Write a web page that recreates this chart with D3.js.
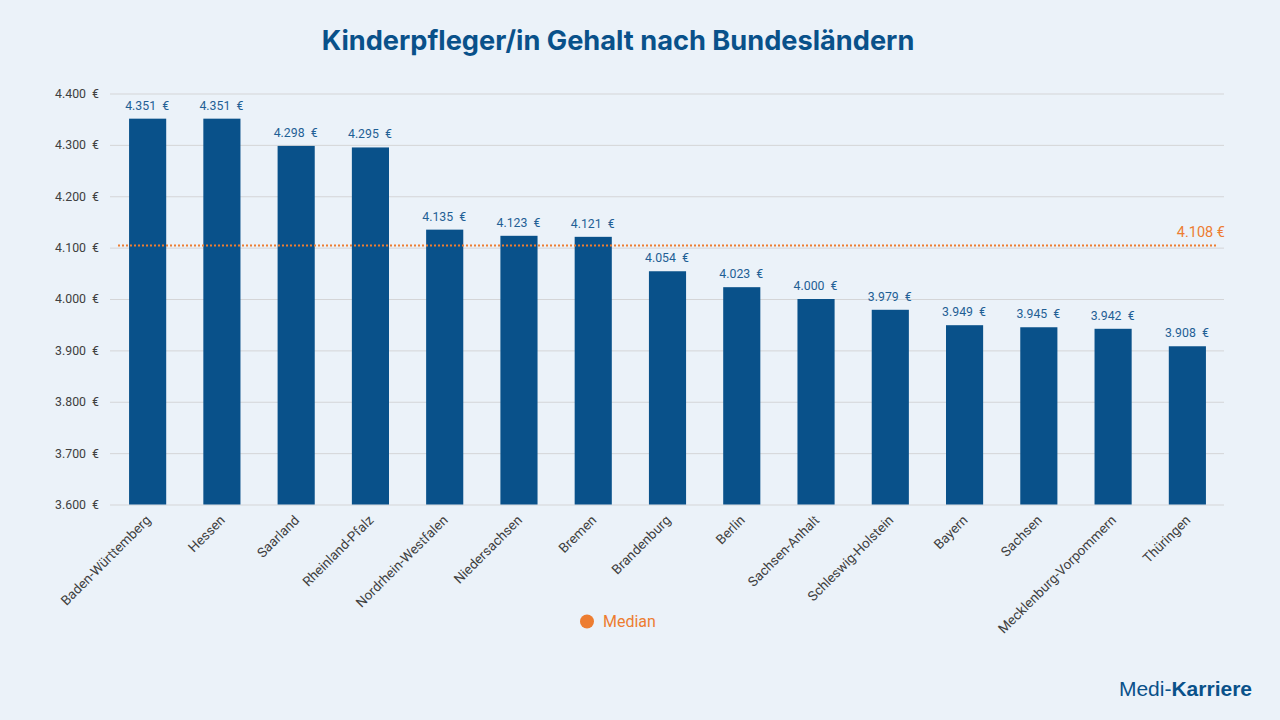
<!DOCTYPE html>
<html lang="de">
<head>
<meta charset="UTF-8">
<title>Kinderpfleger/in Gehalt nach Bundesländern</title>
<script src="https://d3js.org/d3.v7.min.js"></script>
<style>
html, body { margin: 0; padding: 0; background: #ebf2f9; }
svg { display: block; font-family: 'Roboto'; }
</style>
</head>
<body>
<div id="chart"></div>
<script>
const states = ["Baden-Württemberg", "Hessen", "Saarland", "Rheinland-Pfalz", "Nordrhein-Westfalen", "Niedersachsen", "Bremen", "Brandenburg", "Berlin", "Sachsen-Anhalt", "Schleswig-Holstein", "Bayern", "Sachsen", "Mecklenburg-Vorpommern", "Thüringen"];
const salaries = [4351, 4351, 4298, 4295, 4135, 4123, 4121, 4054, 4023, 4000, 3979, 3949, 3945, 3942, 3908];
const yTicks = [3600, 3700, 3800, 3900, 4000, 4100, 4200, 4300, 4400];
const medianLabel = 4108;
const medianDrawn = 4104; // line sits a bit under the label value in the picture

const width = 1280, height = 720;
const navy = "#09518a", orange = "#ed7d31", grid = "#d4d5d7", textDark = "#404040";

const svg = d3.select("#chart").append("svg")
    .attr("width", width)
    .attr("height", height);

const x = d3.scaleBand().domain(states).range([110.5, 1224.5]).paddingInner(0.5).paddingOuter(0.25);
const y = d3.scaleLinear().domain([3600, 4400]).range([504.5, 93.5]);

const euro = d => d3.format(",")(d).replace(",", ".") + "\u00a0 €";

svg.append("text")
    .attr("x", 618).attr("y", 50)
    .attr("text-anchor", "middle")
    .attr("font-family", "Inter")
    .attr("font-size", 27.2).attr("font-weight", 700)
    .attr("fill", navy)
    .text("Kinderpfleger/in Gehalt nach Bundesländern");

// gridlines + y labels
const yAxis = d3.axisLeft(y).tickValues(yTicks).tickSize(-(1224 - 110)).tickPadding(11).tickFormat(euro);
const yG = svg.append("g").attr("transform", "translate(110,0)").call(yAxis);
yG.select(".domain").remove();
yG.selectAll(".tick line").attr("stroke", grid).attr("stroke-width", 1);
yG.selectAll(".tick text").attr("fill", textDark).attr("font-size", 12.3).attr("font-family", "Roboto");

// bars
svg.selectAll("rect.bar")
    .data(salaries)
    .join("rect")
    .attr("class", "bar")
    .attr("x", (d, i) => x(states[i]))
    .attr("width", x.bandwidth())
    .attr("y", d => y(d))
    .attr("height", d => y(3600) - y(d))
    .attr("fill", navy);

// value labels
svg.selectAll("text.val")
    .data(salaries)
    .join("text")
    .attr("class", "val")
    .attr("x", (d, i) => x(states[i]) + x.bandwidth() / 2 - 0.5)
    .attr("y", d => y(d) - 9)
    .attr("text-anchor", "middle")
    .attr("font-size", 12.3)
    .attr("fill", "#1f5f95")
    .text(euro);

// x labels
svg.selectAll("text.cat")
    .data(states)
    .join("text")
    .attr("class", "cat")
    .attr("text-anchor", "end")
    .attr("font-size", 13.5)
    .attr("fill", textDark)
    .attr("transform", d => `translate(${x(d) + x.bandwidth() / 2 + 4},${521}) rotate(-45)`)
    .text(d => d);

// median
svg.append("line")
    .attr("x1", 118).attr("x2", 1216)
    .attr("y1", y(medianDrawn)).attr("y2", y(medianDrawn))
    .attr("stroke", orange).attr("stroke-width", 2)
    .attr("stroke-dasharray", "2 2");

svg.append("text")
    .attr("x", 1225).attr("y", y(medianDrawn) - 8.5)
    .attr("text-anchor", "end")
    .attr("font-size", 14.5)
    .attr("fill", orange)
    .text(d3.format(",")(medianLabel).replace(",", ".") + " €");

// legend
svg.append("circle").attr("cx", 587).attr("cy", 621.5).attr("r", 7).attr("fill", orange);
svg.append("text")
    .attr("x", 603).attr("y", 627)
    .attr("font-size", 16)
    .attr("fill", orange)
    .text("Median");

// logo
const logo = svg.append("text")
    .attr("x", 1252).attr("y", 695.5)
    .attr("text-anchor", "end")
    .attr("font-family", "Liberation Sans")
    .attr("font-size", 21)
    .attr("fill", navy);
logo.append("tspan").text("Medi-");
logo.append("tspan").attr("font-weight", 700).text("Karriere");
</script>
</body>
</html>
